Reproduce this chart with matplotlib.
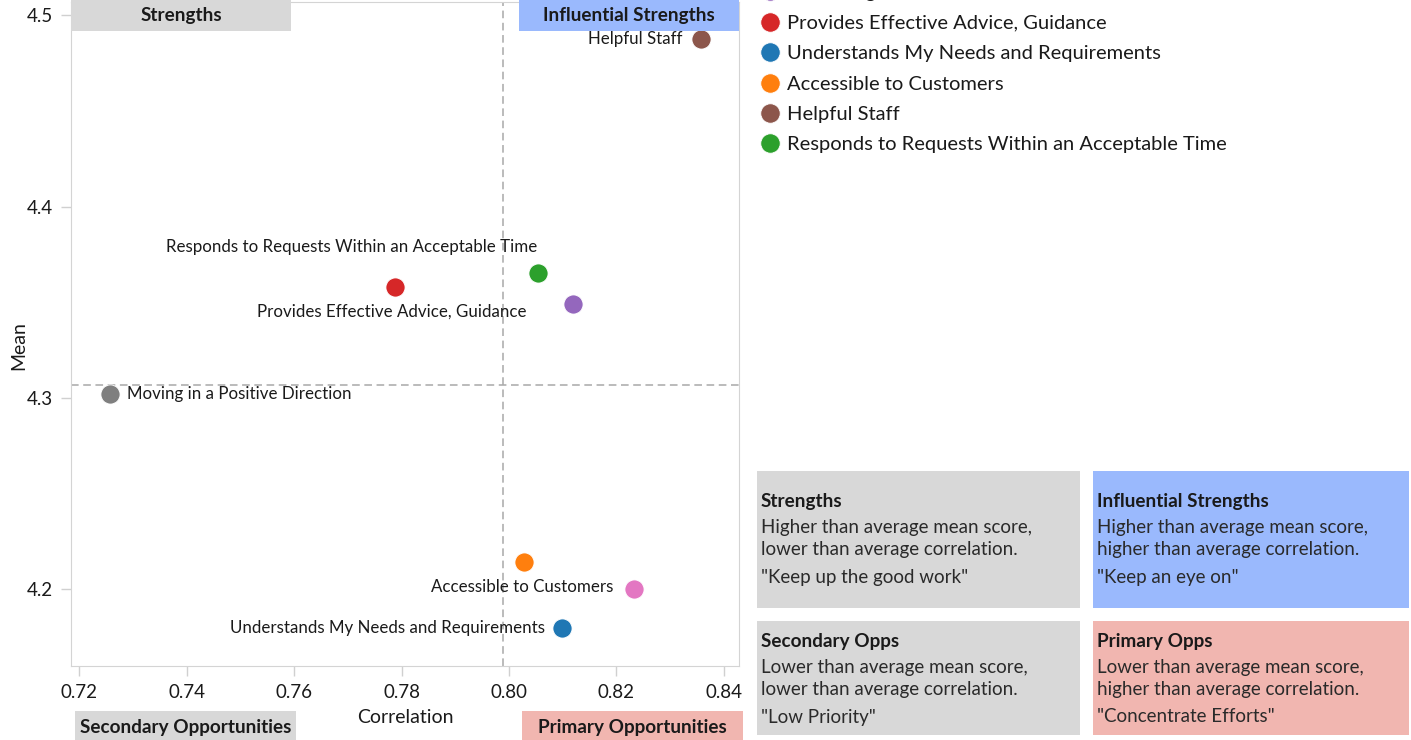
import matplotlib
matplotlib.use("Agg")
import matplotlib.pyplot as plt
from matplotlib.patches import Rectangle
from matplotlib.lines import Line2D

plt.rcParams['font.family'] = ['Lato', 'DejaVu Sans']

# --- data ---
names = ["Moving in a Positive Direction", "Knowledgeable Staff",
         "Provides Effective Advice, Guidance", "Understands My Needs and Requirements",
         "Accessible to Customers", "Helpful Staff",
         "Responds to Requests Within an Acceptable Time", "Courteous Staff"]
corr = [0.7257, 0.8119, 0.7787, 0.8099, 0.8028, 0.8357, 0.8054, 0.8233]
mean = [4.302, 4.349, 4.358, 4.1796, 4.2141, 4.4874, 4.3654, 4.200]
colors = ["#7f7f7f", "#9467bd", "#d62728", "#1f77b4", "#ff7f0e", "#8c564b", "#2ca02c", "#e377c2"]
legend_order = [7, 0, 1, 2, 3, 4, 5, 6]
# label offsets (pixels) relative to the point, and alignment
label_pos = {0: (17, 0, "left"), 2: (-3, -25, "center"), 3: (-17, 0, "right"),
             4: (-2, -25, "center"), 5: (-18, 0, "right"), 6: (-1, 26, "right")}
avg_corr, avg_mean = 0.7989, 4.3068
xticks = [0.72, 0.74, 0.76, 0.78, 0.80, 0.82, 0.84]
yticks = [4.2, 4.3, 4.4, 4.5]

W, H = 1411, 740
fig = plt.figure(figsize=(W / 100, H / 100), dpi=100)
ax = fig.add_axes([71 / W, 74 / H, 668 / W, 664 / H])

for i in range(len(names)):
    ax.scatter(corr[i], mean[i], s=190, color=colors[i], edgecolor="white", linewidth=0.6, zorder=3)
    if i in label_pos:
        dx, dy, ha = label_pos[i]
        ax.annotate(names[i], (corr[i], mean[i]), xytext=(dx, dy), textcoords="offset pixels",
                    ha=ha, va="center", fontsize=12.2, color="#1a1a1a")

ax.axvline(avg_corr, color="#a8a8a8", ls=(0, (5, 3)), lw=1.1, zorder=1)
ax.axhline(avg_mean, color="#a8a8a8", ls=(0, (5, 3)), lw=1.1, zorder=1)
ax.set_xlim(0.7185, 0.8428)
ax.set_ylim(4.1597, 4.507)
ax.set_xticks(xticks)
ax.set_xticklabels([f"{v:.2f}" for v in xticks])
ax.set_yticks(yticks)
ax.set_yticklabels([f"{v:.1f}" for v in yticks])
ax.tick_params(labelsize=13.5, colors="#d0d0d0", labelcolor="#1a1a1a", length=7, width=1, pad=6)
for s in ax.spines.values():
    s.set_color("#d4d4d4")
ax.set_xlabel("Correlation", fontsize=14, color="#1a1a1a", labelpad=6)
ax.set_ylabel("Mean", fontsize=14, color="#1a1a1a")
ax.yaxis.set_label_coords(-0.066, 0.483)

# quadrant tags on the chart
gray, blue, pink = "#d8d8d8", "#9ab9fd", "#f1b6b0"
tags = [("Strengths", 71, 0, 220, 31, gray), ("Influential Strengths", 519, 0, 220, 31, blue),
        ("Secondary Opportunities", 75, 711, 221, 35, gray), ("Primary Opportunities", 522, 711, 221, 35, pink)]
for txt, x0, y0, w, h, c in tags:
    fig.patches.append(Rectangle((x0 / W, 1 - (y0 + h) / H), w / W, h / H, transform=fig.transFigure,
                                 facecolor=c, edgecolor="none", zorder=5))
    cy = y0 + 16
    fig.text((x0 + w / 2) / W, 1 - cy / H, txt, ha="center", va="center", fontsize=13.6,
             fontweight="bold", color="#1a1a1a", zorder=6)

# explanation boxes: title offset from the box top
boxes = [("Strengths", ["Higher than average mean score,", "lower than average correlation.",
                        "\"Keep up the good work\""], 757, 471, 323, 137, gray, 30),
         ("Influential Strengths", ["Higher than average mean score,", "higher than average correlation.",
                                    "\"Keep an eye on\""], 1093, 471, 316, 137, blue, 30),
         ("Secondary Opps", ["Lower than average mean score,", "lower than average correlation.",
                             "\"Low Priority\""], 757, 621, 323, 114, gray, 20),
         ("Primary Opps", ["Lower than average mean score,", "higher than average correlation.",
                           "\"Concentrate Efforts\""], 1093, 621, 316, 114, pink, 20)]
for title, lines, x0, y0, w, h, c, top in boxes:
    fig.patches.append(Rectangle((x0 / W, 1 - (y0 + h) / H), w / W, h / H, transform=fig.transFigure,
                                 facecolor=c, edgecolor="none", zorder=0))
    fig.text((x0 + 4) / W, 1 - (y0 + top) / H, title, ha="left", va="center", fontsize=13.6,
             fontweight="bold", color="#1a1a1a")
    for k, ln in enumerate(lines):
        yy = y0 + top + 26 + k * 23 + (4 if k == 2 else 0)
        fig.text((x0 + 4) / W, 1 - yy / H, ln, ha="left", va="center", fontsize=13.5, color="#2a2a2a")

# legend (top rows run off the canvas as in the reference)
handles = [Line2D([], [], ls="none", marker="o", markersize=14, markerfacecolor=colors[i],
                  markeredgecolor="white", markeredgewidth=0.6) for i in legend_order]
fig.legend(handles, [names[i] for i in legend_order], loc="lower left",
           bbox_to_anchor=(735 / W, 1 - 173.5 / H), frameon=False, fontsize=14.5,
           labelspacing=0.66, handlelength=1.5, handletextpad=0.1, borderpad=0.5,
           labelcolor="#1a1a1a")

fig.savefig("out.png", dpi=100)
